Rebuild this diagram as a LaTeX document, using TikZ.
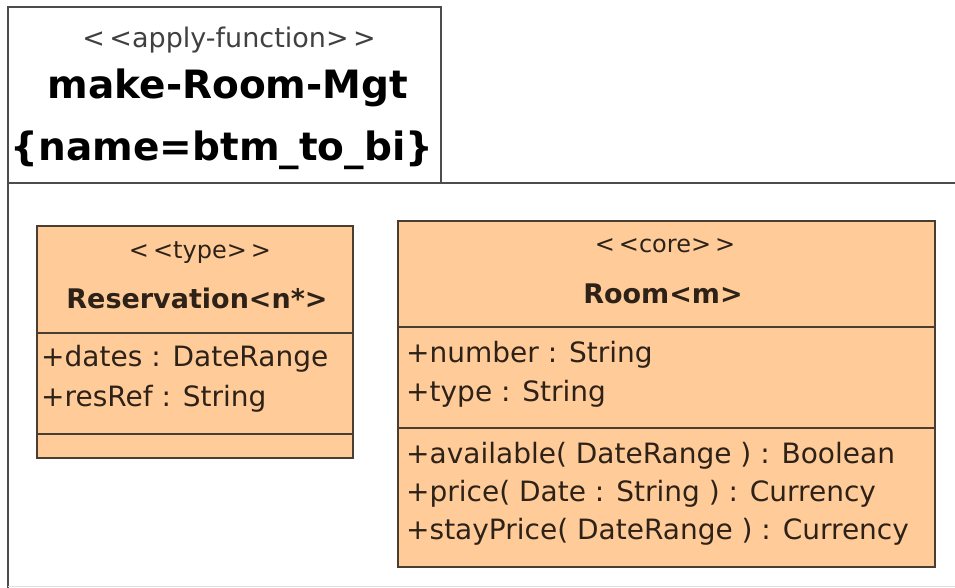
\documentclass[tikz,border=0pt]{standalone}
\usepackage{fontspec}
\setmainfont{DejaVu Sans}
\definecolor{classfill}{HTML}{FFCC99}
\definecolor{classline}{HTML}{4A3E33}
\definecolor{textc}{HTML}{2E2218}
\tikzset{
  pkgline/.style={draw=black!70, line width=1.2pt},
  classbox/.style={fill=classfill, draw=classline, line width=1.2pt},
  divider/.style={draw=classline, line width=1.2pt},
  pkgstereo/.style={text=black!75, font=\fontsize{27}{32}\selectfont},
  pkgname/.style={text=black, font=\bfseries\fontsize{39}{44}\selectfont},
  stereo/.style={text=textc, font=\fontsize{24}{28}\selectfont},
  cname/.style={text=textc, font=\bfseries\fontsize{27}{32}\selectfont},
  member/.style={anchor=west, text=textc, inner sep=0pt, font=\fontsize{28}{32}\selectfont},
}

\begin{document}
\begin{tikzpicture}[x=1pt,y=-1pt]
\useasboundingbox (0,0) rectangle (955,588);
% package tab and body
\draw[pkgline] (8,183) -- (8,7) -- (441,7) -- (441,183);
\draw[pkgline] (8,588) -- (8,183) -- (955,183);
\draw[black!12, line width=1pt] (8,586) -- (955,586);
\node[pkgstereo] (pkgst) at (229,40) {<\,<apply-function>\,>};
\node[pkgname] (pkgnm) at (228,88) {make-Room-Mgt};
\node[pkgname] (pkgtag) at (222,150) {\{name=btm\_to\_bi\}};
% Reservation
\draw[classbox] (37,226) rectangle (353,458);
\draw[divider] (37,333) -- (353,333);
\draw[divider] (37,434) -- (353,434);
\node[stereo] (resst) at (200,253) {<\,<type>\,>};
\node[cname] (resnm) at (197,298) {Reservation<n*>};
\node[member] (resa) at (41,359) {+dates : DateRange};
\node[member] (resb) at (41,399) {+resRef : String};
% Room
\draw[classbox] (398,221) rectangle (935,567);
\draw[divider] (398,327) -- (935,327);
\draw[divider] (398,428) -- (935,428);
\node[stereo] (roomst) at (665,246) {<\,<core>\,>};
\node[cname] (roomnm) at (663,294) {Room<m>};
\node[member] (rooma) at (406,355) {+number : String};
\node[member] (roomb) at (406,394) {+type : String};
\node[member] (roomc) at (406,456) {+available( DateRange ) : Boolean};
\node[member] (roomd) at (406,494) {+price( Date : String ) : Currency};
\node[member] (roome) at (406,532) {+stayPrice( DateRange ) : Currency};
\end{tikzpicture}
\end{document}
